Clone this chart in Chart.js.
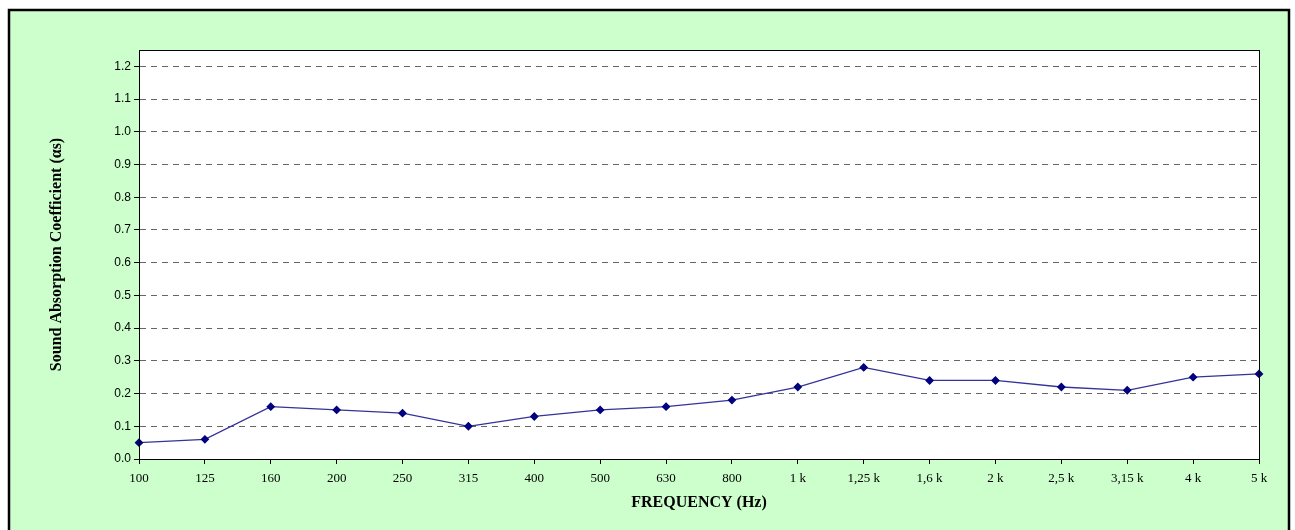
<!DOCTYPE html>
<html>
<head>
<meta charset="utf-8">
<script src="https://cdn.jsdelivr.net/npm/chart.js@4.4.1/dist/chart.umd.min.js"></script>
<style>
  html, body { margin: 0; padding: 0; background: #fff; }
  #wrap { position: absolute; left: 0; top: 0; width: 1295px; height: 530px; }
</style>
</head>
<body>
<div id="wrap"><canvas id="absorption" width="1295" height="530"></canvas></div>
<script>
// third-octave bands
var frequencies = ['100','125','160','200','250','315','400','500','630','800',
                   '1 k','1,25 k','1,6 k','2 k','2,5 k','3,15 k','4 k','5 k'];
// sound absorption coefficient per band
var alphaS = [0.05, 0.06, 0.16, 0.15, 0.14, 0.10, 0.13, 0.15, 0.16, 0.18,
              0.22, 0.28, 0.24, 0.24, 0.22, 0.21, 0.25, 0.26];
var yTicks = [0, 0.1, 0.2, 0.3, 0.4, 0.5, 0.6, 0.7, 0.8, 0.9, 1.0, 1.1, 1.2];

// green frame, white plot area and plot border
var framePlugin = {
  id: 'frame',
  beforeDraw: function (chart) {
    var c = chart.ctx, a = chart.chartArea;
    c.save();
    c.fillStyle = '#fff';
    c.fillRect(0, 0, chart.width, chart.height);
    c.fillStyle = '#ccffcc';
    c.fillRect(9, 10, 1280, 525);
    c.strokeStyle = '#000';
    c.lineWidth = 2.5;
    c.beginPath();
    c.moveTo(9, 535); c.lineTo(9, 10); c.lineTo(1289, 10); c.lineTo(1289, 535);
    c.stroke();
    c.fillStyle = '#fff';
    c.fillRect(a.left, a.top, a.right - a.left, a.bottom - a.top);
    c.restore();
  },
  afterDraw: function (chart) {
    var c = chart.ctx, a = chart.chartArea;
    c.save();
    c.strokeStyle = '#000';
    c.lineWidth = 1;
    c.strokeRect(a.left + 0.5, a.top + 0.5, a.right - a.left, a.bottom - a.top);
    c.restore();
  }
};

var ctx = document.getElementById('absorption');

var myChart = new Chart(ctx, {
  type: 'line',
  data: {
    labels: frequencies,
    datasets: [
      {
        label: 'Sound Absorption Coefficient',
        data: alphaS,
        borderColor: '#333399',
        borderWidth: 1.3,
        backgroundColor: '#000080',
        pointBackgroundColor: '#000080',
        pointBorderColor: '#000080',
        pointStyle: 'rectRot',
        pointRadius: 3.5,
        tension: 0
      }
    ]
  },
  options: {
    responsive: false,
    animation: false,
    devicePixelRatio: 1,
    layout: { padding: { left: 0, top: 50, right: 36, bottom: 0 } },
    plugins: {
      legend: { display: false },
      tooltip: { enabled: false }
    },
    scales: {
      x: {
        offset: false,
        grid: { drawOnChartArea: false, drawTicks: true, tickLength: 5, color: '#000' },
        border: { color: '#000', width: 1 },
        ticks: {
          color: '#000',
          maxRotation: 0,
          autoSkip: false,
          padding: 7,
          font: { family: 'Liberation Serif', size: 13 }
        },
        title: {
          display: true,
          text: 'FREQUENCY (Hz)',
          color: '#000',
          font: { family: 'Liberation Serif', size: 16, weight: 'bold' },
          padding: { top: 0, bottom: 18 }
        },
        afterFit: function (scale) { scale.height = 71; }
      },
      y: {
        min: 0,
        max: 1.25,
        afterBuildTicks: function (scale) {
          scale.ticks = yTicks.map(function (v) { return { value: v }; });
        },
        grid: {
          color: '#666',
          tickColor: '#000',
          tickLength: 5,
          lineWidth: 1
        },
        border: { color: '#000', width: 1, dash: [6, 5] },
        ticks: {
          color: '#000',
          padding: 3,
          font: { family: 'Liberation Sans', size: 12 },
          callback: function (v) { return Number(v).toFixed(1); }
        },
        title: {
          display: true,
          text: 'Sound Absorption Coefficient (αs)',
          color: '#000',
          font: { family: 'Liberation Serif', size: 16, weight: 'bold' },
          padding: { top: 47, bottom: 0 }
        },
        afterFit: function (scale) { scale.width = 139; }
      }
    }
  },
  plugins: [framePlugin]
});
</script>
</body>
</html>
